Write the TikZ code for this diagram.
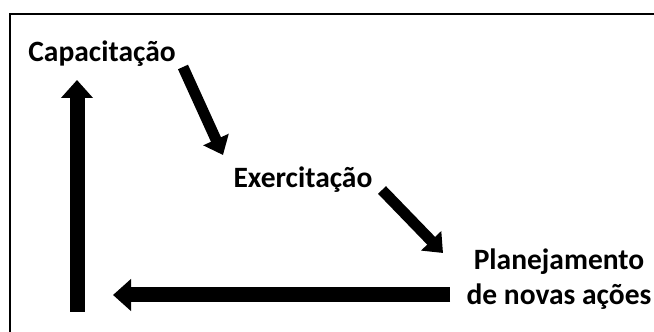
\documentclass[tikz,border=0pt]{standalone}
\usepackage{fontspec}
\setmainfont{Carlito}
\usetikzlibrary{arrows.meta,positioning}

\tikzset{
  stagetext/.style={font=\bfseries\fontsize{29.5}{35}\selectfont, inner sep=0pt, align=center},
  bigarrow/.style={line width=15pt, -{Triangle[length=18pt,width=31pt]}},
  slantarrow/.style={line width=11pt, -{Triangle[length=17pt,width=27pt]}}
}

\begin{document}
\begin{tikzpicture}[x=1pt,y=1pt]
\useasboundingbox (0,0) rectangle (654,332);
% frame
\draw[line width=2pt] (10,0) -- (10,318) -- (654,318);
% stages
\node[stagetext, anchor=base] (cap) at (102,270) {Capacitação};
\node[stagetext, anchor=base] (exe) at (303,144) {Exercitação};
\node[stagetext, anchor=base] (plan) at (559,27) {Planejamento\\de novas ações};
% arrow ends
\coordinate (a1) at (183,265);
\coordinate (b1) at (223,177);
\coordinate (a2) at (382,142);
\coordinate (b2) at (443,79);
\coordinate (front) at (450,37);
\coordinate (back) at (113,37);
\coordinate (bot) at (77,20);
\coordinate (top) at (77,252);
\draw[slantarrow] (a1) -- (b1);
\draw[slantarrow] (a2) -- (b2);
\draw[bigarrow] (front) -- (back);
\draw[bigarrow] (bot) -- (top);
\end{tikzpicture}
\end{document}
